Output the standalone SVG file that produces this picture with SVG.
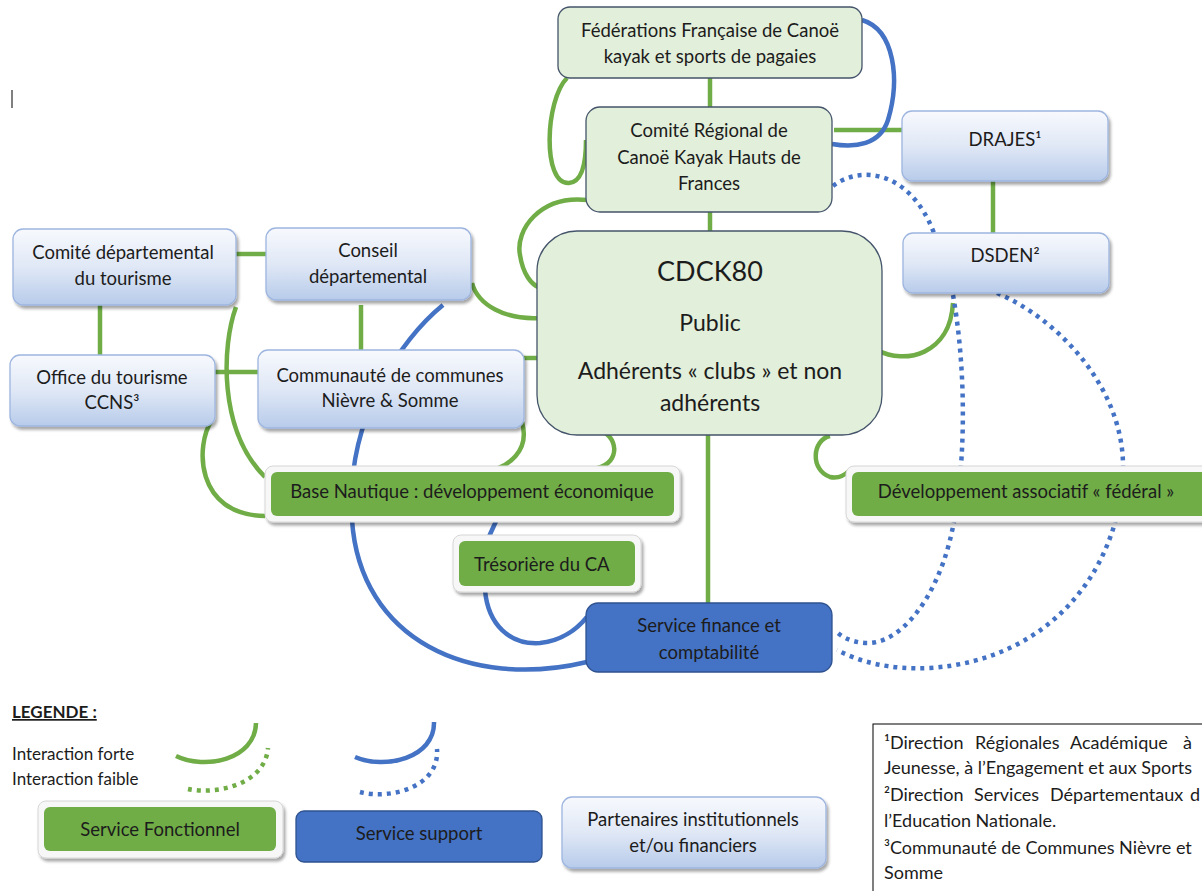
<svg xmlns="http://www.w3.org/2000/svg" width="1202" height="891" viewBox="0 0 1202 891">
<style>
text{font-family:Lato,"Liberation Sans",sans-serif;fill:#1c1c1c;font-size:18.5px}
.c{text-anchor:middle}
.g{fill:none;stroke:#70ad47;stroke-width:4.5}
.b{fill:none;stroke:#4472c4;stroke-width:4.5}
.bd{fill:none;stroke:#4472c4;stroke-width:4.5;stroke-dasharray:4 5}
.gd{fill:none;stroke:#70ad47;stroke-width:4.5;stroke-dasharray:4 5}
.lg{fill:#e2efda;stroke:#44546a;stroke-width:1.3}
.pt{fill:url(#pg);stroke:#9db5df;stroke-width:1.3;filter:url(#sh)}
.fo{fill:#f7f7f7;stroke:#d6d6d6;stroke-width:1;filter:url(#sh)}
.fi{fill:#70ad47}
.su{fill:#4472c4;stroke:#2f528f;stroke-width:1.3}
.big{font-size:23px}
.nt{font-size:18px}
</style>
<defs>
<linearGradient id="pg" x1="0" y1="0" x2="0" y2="1">
<stop offset="0" stop-color="#f7f9fd"/>
<stop offset="0.5" stop-color="#e0e8f6"/>
<stop offset="1" stop-color="#b7cbea"/>
</linearGradient>
<filter id="sh" x="-10%" y="-20%" width="120%" height="150%">
<feDropShadow dx="2" dy="3" stdDeviation="1.5" flood-color="#000" flood-opacity="0.35"/>
</filter>
</defs>
<rect width="1202" height="891" fill="#fff"/>
<line x1="12" y1="90" x2="12" y2="108" stroke="#000" stroke-width="1"/>

<g id="connectors">
<line class="g" x1="710" y1="78" x2="710" y2="107"/>
<path class="g" d="M567,78 C545,100 542,185 569,183 C583,182 586,160 586,140"/>
<line class="g" x1="834" y1="130" x2="902" y2="130"/>
<path class="b" d="M862,20 C895,30 900,80 888,120 C880,145 855,148 832,144"/>
<line class="g" x1="710" y1="200" x2="710" y2="231"/>
<path class="g" d="M587,200 C540,195 515,230 520,255 C523,275 532,285 540,288"/>
<path class="g" d="M472,283 C478,305 505,320 540,318"/>
<line class="g" x1="513" y1="358" x2="544" y2="358"/>
<line class="g" x1="236" y1="254" x2="266" y2="254"/>
<line class="g" x1="100" y1="305" x2="100" y2="355"/>
<line class="g" x1="361" y1="305" x2="361" y2="365"/>
<line class="g" x1="213" y1="372" x2="269" y2="372"/>
<path class="g" d="M236,307 C222,345 218,430 265,477"/>
<path class="g" d="M212,420 C195,445 195,515 265,516"/>
<path class="g" d="M522,422 C530,450 510,468 483,472"/>
<path class="g" d="M588,428 C615,428 622,455 605,465 C597,470 588,470 580,469"/>
<line class="g" x1="708" y1="434" x2="708" y2="603"/>
<path class="g" d="M877,350 C905,365 950,355 953,303"/>
<path class="g" d="M830,436 C812,440 810,470 830,477 C838,479 845,475 850,470"/>
<line class="g" x1="993" y1="181" x2="993" y2="236"/>
<path class="b" d="M443,305 C400,340 345,420 352,520 C360,640 470,690 587,662"/>
<path class="b" d="M497,519 L487,541"/>
<path class="b" d="M485,590 C488,625 510,645 540,643 C562,641 578,628 587,617"/>
<path class="bd" d="M833,186 C860,165 910,170 934,233"/>
<path class="bd" d="M953,295 C968,380 965,480 950,540 C935,600 900,645 865,643 C850,642 840,636 835,630"/>
<path class="bd" d="M997,293 C1060,320 1125,390 1123,470 C1120,570 1050,660 930,668 C890,670 860,662 837,650"/>
</g>

<g id="ffck">
<rect class="lg" x="558" y="7" width="304" height="71" rx="12"/>
<text class="c" x="710" y="37">Fédérations Française de Canoë</text>
<text class="c" x="710" y="63">kayak et sports de pagaies</text>
</g>
<g id="comite-regional">
<rect class="lg" x="586" y="107" width="246" height="105" rx="14"/>
<text class="c" x="709" y="137">Comité Régional de</text>
<text class="c" x="709" y="164">Canoë Kayak Hauts de</text>
<text class="c" x="709" y="190">Frances</text>
</g>
<g id="drajes">
<rect class="pt" x="902" y="111" width="206" height="70" rx="10"/>
<text class="c" x="1005" y="146">DRAJES¹</text>
</g>
<g id="dsden">
<rect class="pt" x="903" y="233" width="206" height="60" rx="10"/>
<text class="c" x="1005" y="262">DSDEN²</text>
</g>
<g id="cdck80">
<rect class="lg" x="537" y="231" width="345" height="204" rx="40"/>
<text class="c" x="710" y="281" style="font-size:27px">CDCK80</text>
<text class="c big" x="710" y="331">Public</text>
<text class="c big" x="710" y="379">Adhérents « clubs » et non</text>
<text class="c big" x="710" y="411">adhérents</text>
</g>
<g id="comite-departemental-tourisme">
<rect class="pt" x="13" y="229" width="223" height="76" rx="10"/>
<text class="c" x="123" y="259">Comité départemental</text>
<text class="c" x="123" y="285">du tourisme</text>
</g>
<g id="conseil-departemental">
<rect class="pt" x="266" y="228" width="205" height="72" rx="10"/>
<text class="c" x="368" y="257">Conseil</text>
<text class="c" x="368" y="283">départemental</text>
</g>
<g id="office-tourisme">
<rect class="pt" x="10" y="355" width="205" height="71" rx="10"/>
<text class="c" x="112" y="384">Office du tourisme</text>
<text class="c" x="112" y="409">CCNS³</text>
</g>
<g id="communaute-communes">
<rect class="pt" x="258" y="350" width="266" height="78" rx="10"/>
<text class="c" x="390" y="382">Communauté de communes</text>
<text class="c" x="390" y="407">Nièvre &amp; Somme</text>
</g>
<g id="base-nautique">
<rect class="fo" x="265" y="466" width="415" height="56" rx="8"/>
<rect class="fi" x="271" y="472" width="403" height="44" rx="6"/>
<text class="c" x="472" y="498">Base Nautique : développement économique</text>
</g>
<g id="tresoriere">
<rect class="fo" x="453" y="535" width="188" height="57" rx="8"/>
<rect class="fi" x="459" y="541" width="176" height="45" rx="6"/>
<text x="474" y="571">Trésorière du CA</text>
</g>
<g id="developpement-associatif">
<rect class="fo" x="846" y="466" width="370" height="56" rx="8"/>
<rect class="fi" x="852" y="472" width="360" height="44" rx="6"/>
<text class="c" x="1026" y="498">Développement associatif « fédéral »</text>
</g>
<g id="service-finance">
<rect class="su" x="586" y="603" width="246" height="69" rx="12"/>
<text class="c" x="709" y="632">Service finance et</text>
<text class="c" x="709" y="659">comptabilité</text>
</g>

<g id="legende">
<text x="12" y="718" style="font-weight:bold;font-size:17px;text-decoration:underline">LEGENDE :</text>
<text x="12" y="760" style="font-size:17px">Interaction forte</text>
<text x="12" y="785" style="font-size:17px">Interaction faible</text>
<path class="g" d="M176,756 C205,770 255,760 256,723"/>
<path class="gd" d="M188,789 C215,795 265,785 268,748"/>
<path class="b" d="M355,757 C385,770 435,758 434,722"/>
<path class="bd" d="M360,792 C390,800 440,787 437,749"/>
</g>
<g id="legende-service-fonctionnel">
<rect class="fo" x="38" y="801" width="245" height="57" rx="8"/>
<rect class="fi" x="44" y="807" width="232" height="44" rx="6"/>
<text class="c" x="160" y="836">Service Fonctionnel</text>
</g>
<g id="legende-service-support">
<rect class="su" x="296" y="811" width="246" height="51" rx="8"/>
<text class="c" x="419" y="840">Service support</text>
</g>
<g id="legende-partenaires">
<rect class="pt" x="562" y="797" width="264" height="71" rx="10"/>
<text class="c" x="693" y="826">Partenaires institutionnels</text>
<text class="c" x="693" y="852">et/ou financiers</text>
</g>
<g id="notes">
<rect x="873" y="724" width="340" height="180" fill="#fff" stroke="#000" stroke-width="1"/>
<text class="nt" y="749"><tspan x="884">¹Direction</tspan><tspan x="975">Régionales</tspan><tspan x="1070">Académique</tspan><tspan x="1183">à</tspan></text>
<text class="nt" x="884" y="774">Jeunesse, à l’Engagement et aux Sports</text>
<text class="nt" y="801"><tspan x="884">²Direction</tspan><tspan x="974">Services</tspan><tspan x="1050">Départementaux</tspan><tspan x="1190">d</tspan></text>
<text class="nt" x="884" y="827">l’Education Nationale.</text>
<text class="nt" x="884" y="854">³Communauté de Communes Nièvre et</text>
<text class="nt" x="884" y="879">Somme</text>
</g>
</svg>
